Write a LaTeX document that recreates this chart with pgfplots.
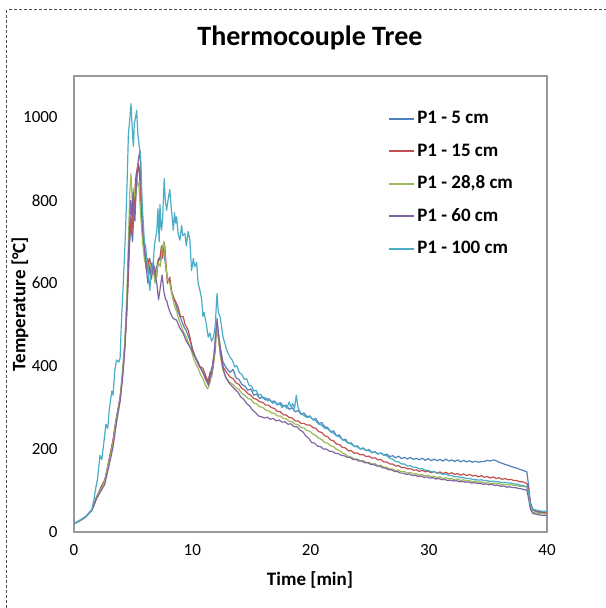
\documentclass[border=0pt]{standalone}
\usepackage{fontspec}
\setmainfont{Carlito}
\usepackage{pgfplots}
\pgfplotsset{compat=1.18}
\definecolor{cBlue}{HTML}{4F81BD}
\definecolor{cRed}{HTML}{C0504D}
\definecolor{cGreen}{HTML}{9BBB59}
\definecolor{cPurple}{HTML}{8064A2}
\definecolor{cCyan}{HTML}{4BACC6}
\begin{document}
\begin{tikzpicture}
\useasboundingbox (-37bp,-38bp) rectangle (266bp,266bp);
\draw[black!70, line width=0.5bp, dash pattern=on 1.5bp off 1bp] (-33.5bp,-38bp) -- (-33.5bp,261bp) -- (266bp,261bp);
\begin{axis}[
  scale only axis, width=236.5bp, height=228bp,
  xmin=0, xmax=40, ymin=0, ymax=1100,
  xtick={0,10,20,30,40}, ytick={0,200,400,600,800,1000},
  major tick length=0pt,
  axis line style={draw=black!40, line width=0.75bp},
  /pgf/number format/assume math mode=true,
  /pgf/number format/1000 sep={},
  ticklabel style={font=\fontsize{8.5bp}{10bp}\selectfont},
  yticklabel style={inner sep=0pt, xshift=-8bp},
  xticklabel style={inner sep=0pt, yshift=-6bp},
  legend cell align=left,
  legend style={at={(0.664,0.931)}, anchor=north west, draw=none, fill=none, inner sep=0pt,
    font=\bfseries\fontsize{9.5bp}{11bp}\selectfont,
    nodes={text height=7bp, text depth=2bp, inner sep=1bp}, row sep=5.25bp},
  legend image code/.code={\draw[#1, line width=0.9bp] (0bp,0bp) -- (12.5bp,0bp);},
  every axis plot/.append style={line width=0.6bp, line join=round},
]
\addplot[cBlue] coordinates {
(0,20)(0.5,28)(1.0,37)(1.5,53)(1.9,84)(2.3,108)(2.6,124)(3.0,178)(3.3,218)(3.6,280)(3.9,322)(4.1,385)(4.3,455)(4.5,560)(4.65,680)(4.8,740)(4.95,700)(5.1,790)(5.25,840)(5.4,870)(5.52,880)(5.65,830)(5.8,740)(5.95,690)(6.1,650)(6.25,630)(6.4,660)(6.55,640)(6.7,635)(6.85,620)(7.0,640)(7.15,660)(7.3,655)(7.45,690)(7.6,680)(7.75,640)(7.9,610)(8.1,605)(8.3,575)(8.5,560)(8.7,540)(8.9,525)(9.1,510)(9.3,495)(9.5,485)(9.7,470)(9.9,455)(10.1,435)(10.3,420)(10.5,410)(10.7,395)(10.9,385)(11.1,375)(11.3,365)(11.5,380)(11.7,400)(11.85,430)(12.0,480)(12.1,500)(12.25,470)(12.4,440)(12.6,410)(12.9,395)
(13.2,385)(13.45,392)(13.7,372)(13.95,368)(14.2,356)(14.45,352)(14.7,342)(14.95,345)(15.2,330)(15.45,333)(15.7,322)(15.95,326)(16.2,318)(16.45,322)(16.7,314)(16.95,316)(17.2,308)(17.45,312)(17.7,303)(17.95,306)(18.2,296)(18.45,300)(18.7,290)(18.95,293)(19.2,284)(19.45,287)(19.7,278)(19.95,280)(20.2,271)(20.45,274)(20.7,262)(20.95,264)(21.2,254)(21.45,252)(21.7,242)(21.95,244)(22.2,232)(22.45,234)(22.7,222)(22.95,224)(23.2,214)(23.45,215)(23.7,206)(23.95,208)(24.2,200)(24.45,203)(24.7,196)(24.95,199)(25.2,191)(25.45,194)(25.7,188)(25.95,191)(26.2,185)(26.45,188)(26.7,182)(26.95,184)(27.2,179)(27.45,183)(27.7,177)(27.95,180)(28.2,176)(28.45,180)(28.7,175)(28.95,178)(29.2,174)(29.45,178)(29.7,173)(29.95,177)(30.2,172)(30.45,176)(30.7,172)(30.95,175)(31.2,171)(31.45,176)(31.7,171)(31.95,174)(32.2,170)(32.45,174)(32.7,169)(32.95,173)(33.2,169)(33.45,172)(33.7,168)(33.95,171)(34.2,168)(34.45,170)(34.7,170)(34.95,173)(35.2,171)(35.45,174)(35.7,172)(35.95,168)(36.2,166)(36.45,163)(36.7,161)(36.95,158)(37.2,156)(37.45,154)(37.7,151)(37.95,149)(38.2,146)(38.3,145)(38.45,110)(38.6,70)(38.8,53)(39.2,48)(39.6,46)(40,45)
};
\addlegendentry{P1 - 5 cm}
\addplot[cRed] coordinates {
(0,20)(0.5,28)(1.0,37)(1.5,53)(1.7,65)(1.92,85)(2.1,95)(2.3,110)(2.6,125)(2.8,150)(3.0,180)(3.3,222)(3.5,260)(3.7,290)(3.9,326)(4.05,360)(4.17,398)(4.3,450)(4.45,519)(4.6,620)(4.7,700)(4.8,760)(4.9,720)(5.0,800)(5.1,770)(5.2,850)(5.3,870)(5.44,888)(5.55,860)(5.65,800)(5.75,740)(5.86,704)(5.95,680)(6.05,650)(6.14,631)(6.25,660)(6.35,640)(6.45,650)(6.56,647)(6.7,620)(6.8,640)(6.99,615)(7.1,650)(7.27,663)(7.4,690)(7.5,660)(7.6,700)(7.69,687)(7.8,640)(7.9,600)(8.1,615)(8.25,580)(8.4,567)(8.6,555)(8.8,543)(9.0,520)(9.24,519)(9.4,500)(9.66,487)(9.8,470)(10.0,440)(10.2,425)(10.37,414)(10.6,400)(10.9,395)(11.1,380)(11.36,360)(11.5,385)(11.63,374)(11.77,398)(11.95,440)(12.06,505)(12.2,470)(12.34,447)(12.5,420)(12.62,398)(12.9,385)
(13.19,374)(13.45,370)(13.7,360)(13.95,356)(14.2,346)(14.45,342)(14.7,334)(14.95,330)(15.2,322)(15.45,320)(15.7,314)(15.95,313)(16.2,306)(16.45,306)(16.7,300)(16.95,298)(17.2,291)(17.45,290)(17.7,283)(17.95,282)(18.2,276)(18.45,275)(18.7,268)(18.95,268)(19.2,262)(19.45,262)(19.7,258)(19.95,258)(20.2,252)(20.45,250)(20.7,242)(20.95,240)(21.2,232)(21.45,230)(21.7,222)(21.95,220)(22.2,212)(22.45,211)(22.7,204)(22.95,203)(23.2,196)(23.45,196)(23.7,190)(23.95,191)(24.2,186)(24.45,187)(24.7,182)(24.95,183)(25.2,178)(25.45,179)(25.7,174)(25.95,175)(26.2,169)(26.45,169)(26.7,164)(26.95,164)(27.2,159)(27.45,160)(27.7,155)(27.95,156)(28.2,152)(28.45,153)(28.7,149)(28.95,150)(29.2,146)(29.45,149)(29.7,145)(29.95,147)(30.2,143)(30.45,146)(30.7,142)(30.95,145)(31.2,141)(31.45,144)(31.7,140)(31.95,143)(32.2,139)(32.45,141)(32.7,137)(32.95,140)(33.2,136)(33.45,139)(33.7,135)(33.95,137)(34.2,133)(34.45,136)(34.7,132)(34.95,134)(35.2,130)(35.45,133)(35.7,129)(35.95,131)(36.2,127)(36.45,129)(36.7,126)(36.95,127)(37.2,124)(37.45,124)(37.7,121)(37.95,121)(38.2,118)(38.3,117)(38.45,100)(38.6,70)(38.8,55)(39.2,50)(39.6,48)(40,47)
};
\addlegendentry{P1 - 15 cm}
\addplot[cGreen] coordinates {
(0,20)(0.5,28)(1.0,38)(1.5,52)(1.9,82)(2.3,105)(2.6,122)(3.0,175)(3.3,215)(3.6,275)(3.9,320)(4.1,380)(4.3,460)(4.45,560)(4.6,700)(4.72,820)(4.82,865)(4.95,780)(5.05,830)(5.2,800)(5.35,850)(5.5,830)(5.65,760)(5.8,700)(5.95,660)(6.1,640)(6.25,625)(6.4,650)(6.55,630)(6.7,640)(6.85,600)(7.0,630)(7.15,650)(7.3,640)(7.45,680)(7.6,700)(7.75,650)(7.9,610)(8.1,600)(8.3,570)(8.5,545)(8.7,530)(8.9,510)(9.1,495)(9.3,480)(9.5,470)(9.7,455)(9.9,440)(10.1,420)(10.3,405)(10.5,395)(10.7,380)(10.9,370)(11.1,355)(11.3,345)(11.5,360)(11.7,390)(11.85,420)(12.0,470)(12.1,495)(12.25,455)(12.4,420)(12.6,390)(12.9,370)
(13.2,360)(13.45,356)(13.7,348)(13.95,344)(14.2,334)(14.45,330)(14.7,322)(14.95,320)(15.2,311)(15.45,309)(15.7,302)(15.95,301)(16.2,294)(16.45,293)(16.7,287)(16.95,286)(17.2,280)(17.45,280)(17.7,274)(17.95,273)(18.2,267)(18.45,266)(18.7,260)(18.95,259)(19.2,252)(19.45,251)(19.7,245)(19.95,243)(20.2,236)(20.45,233)(20.7,226)(20.95,223)(21.2,216)(21.45,214)(21.7,208)(21.95,206)(22.2,199)(22.45,197)(22.7,190)(22.95,188)(23.2,182)(23.45,181)(23.7,176)(23.95,176)(24.2,172)(24.45,172)(24.7,168)(24.95,168)(25.2,164)(25.45,165)(25.7,160)(25.95,161)(26.2,156)(26.45,156)(26.7,152)(26.95,152)(27.2,148)(27.45,149)(27.7,145)(27.95,146)(28.2,142)(28.45,144)(28.7,140)(28.95,141)(29.2,137)(29.45,139)(29.7,135)(29.95,137)(30.2,133)(30.45,135)(30.7,131)(30.95,133)(31.2,129)(31.45,131)(31.7,128)(31.95,129)(32.2,126)(32.45,128)(32.7,124)(32.95,126)(33.2,123)(33.45,124)(33.7,121)(33.95,123)(34.2,120)(34.45,121)(34.7,118)(34.95,120)(35.2,117)(35.45,118)(35.7,116)(35.95,117)(36.2,114)(36.45,115)(36.7,113)(36.95,114)(37.2,112)(37.45,112)(37.7,110)(37.95,110)(38.2,109)(38.3,108)(38.45,90)(38.6,60)(38.8,48)(39.2,45)(39.6,44)(40,43)
};
\addlegendentry{P1 - 28,8 cm}
\addplot[cPurple] coordinates {
(0,20)(0.5,27)(1.0,36)(1.5,52)(1.9,80)(2.3,100)(2.6,115)(3.0,165)(3.3,205)(3.6,265)(3.9,315)(4.1,370)(4.3,440)(4.5,560)(4.65,700)(4.8,800)(4.9,760)(5.0,820)(5.15,750)(5.3,860)(5.45,900)(5.58,920)(5.7,820)(5.8,730)(5.95,690)(6.1,640)(6.25,600)(6.4,640)(6.55,610)(6.7,650)(6.85,625)(7.0,600)(7.15,560)(7.3,590)(7.45,620)(7.6,580)(7.75,560)(7.83,559)(8.0,540)(8.2,525)(8.4,515)(8.68,511)(8.9,495)(9.1,485)(9.24,479)(9.5,460)(9.8,447)(10.1,430)(10.37,414)(10.6,400)(10.9,385)(11.1,370)(11.36,354)(11.5,370)(11.7,395)(11.85,430)(12.0,480)(12.1,515)(12.25,470)(12.4,430)(12.6,395)(12.8,375)
(13.1,360)(13.35,352)(13.6,344)(13.85,338)(14.1,326)(14.35,320)(14.6,310)(14.85,304)(15.1,294)(15.35,288)(15.6,280)(15.85,278)(16.1,275)(16.35,277)(16.6,272)(16.85,274)(17.1,268)(17.35,270)(17.6,265)(17.85,266)(18.1,260)(18.35,261)(18.6,254)(18.85,254)(19.1,246)(19.35,242)(19.6,232)(19.85,226)(20.1,216)(20.35,214)(20.6,207)(20.85,206)(21.1,200)(21.35,200)(21.6,195)(21.85,194)(22.1,190)(22.35,189)(22.6,185)(22.85,184)(23.1,180)(23.35,180)(23.6,175)(23.85,175)(24.1,171)(24.35,171)(24.6,167)(24.85,167)(25.1,163)(25.35,163)(25.6,159)(25.85,159)(26.1,155)(26.35,154)(26.6,150)(26.85,150)(27.1,146)(27.35,146)(27.6,142)(27.85,142)(28.1,139)(28.35,140)(28.6,136)(28.85,137)(29.1,134)(29.35,135)(29.6,132)(29.85,133)(30.1,130)(30.35,131)(30.6,128)(30.85,129)(31.1,126)(31.35,127)(31.6,124)(31.85,125)(32.1,123)(32.35,124)(32.6,121)(32.85,122)(33.1,120)(33.35,121)(33.6,118)(33.85,119)(34.1,117)(34.35,118)(34.6,115)(34.85,116)(35.1,114)(35.35,115)(35.6,112)(35.85,113)(36.1,110)(36.35,111)(36.6,108)(36.85,109)(37.1,107)(37.35,107)(37.6,105)(37.85,104)(38.1,102)(38.3,101)(38.45,80)(38.6,55)(38.8,45)(39.2,42)(39.6,40)(40,40)
};
\addlegendentry{P1 - 60 cm}
\addplot[cCyan] coordinates {
(0,20)(0.5,28)(1.0,37)(1.5,53)(1.7,80)(1.8,100)(2.0,130)(2.2,185)(2.35,175)(2.5,210)(2.7,260)(2.85,250)(3.0,300)(3.2,340)(3.3,330)(3.45,390)(3.6,415)(3.8,410)(3.9,420)(4.0,500)(4.1,560)(4.2,620)(4.35,720)(4.5,850)(4.6,960)(4.7,990)(4.82,1033)(4.95,960)(5.02,930)(5.1,985)(5.2,1000)(5.3,1017)(5.4,960)(5.5,935)(5.65,900)(5.75,800)(5.86,745)(5.95,700)(6.05,690)(6.15,660)(6.25,640)(6.35,600)(6.42,583)(6.5,620)(6.6,640)(6.7,650)(6.8,690)(6.9,710)(7.0,725)(7.1,780)(7.2,700)(7.27,790)(7.35,740)(7.41,728)(7.5,760)(7.63,852)(7.72,800)(7.83,776)(7.95,800)(8.1,826)(8.2,790)(8.3,760)(8.4,728)(8.5,770)(8.6,745)(8.68,760)(8.8,720)(8.96,704)(9.1,740)(9.2,715)(9.38,720)(9.5,690)(9.65,725)(9.8,704)(9.94,631)(10.1,660)(10.2,640)(10.37,650)(10.5,600)(10.65,583)(10.8,560)(10.9,520)(11.0,530)(11.2,500)(11.35,470)(11.5,480)(11.63,460)(11.8,470)(11.95,500)(12.06,560)(12.1,575)(12.2,530)(12.35,520)(12.48,495)(12.6,470)(12.76,455)(12.9,440)(13.05,430)
(13.19,422)(13.4,414)(13.6,398)(13.75,402)(14.0,384)(14.2,380)(14.4,368)(14.6,370)(14.8,354)(15.0,352)(15.2,340)(15.4,342)(15.6,330)(15.8,332)(16.0,322)(16.2,324)(16.4,316)(16.6,318)(16.8,310)(17.0,314)(17.2,306)(17.4,310)(17.6,300)(17.8,306)(18.0,298)(18.2,314)(18.35,302)(18.5,310)(18.65,298)(18.8,330)(18.95,300)(19.1,290)(19.3,284)(19.5,280)(19.7,276)(19.95,278)(20.2,271)(20.45,268)(20.7,260)(20.95,258)(21.2,250)(21.45,249)(21.7,242)(21.95,238)(22.2,232)(22.45,230)(22.7,223)(22.95,220)(23.2,214)(23.45,212)(23.7,207)(23.95,205)(24.2,201)(24.45,201)(24.7,197)(24.95,196)(25.2,192)(25.45,193)(25.7,189)(25.95,190)(26.2,186)(26.45,184)(26.7,178)(26.95,176)(27.2,170)(27.45,169)(27.7,164)(27.95,164)(28.2,159)(28.45,160)(28.7,156)(28.95,156)(29.2,152)(29.45,153)(29.7,149)(29.95,149)(30.2,145)(30.45,146)(30.7,142)(30.95,142)(31.2,139)(31.45,140)(31.7,136)(31.95,136)(32.2,133)(32.45,134)(32.7,131)(32.95,131)(33.2,129)(33.45,129)(33.7,127)(33.95,127)(34.2,125)(34.45,126)(34.7,124)(34.95,124)(35.2,122)(35.45,123)(35.7,121)(35.95,121)(36.2,119)(36.45,120)(36.7,118)(36.95,118)(37.2,116)(37.45,116)(37.7,113)(37.95,112)(38.2,110)(38.3,109)(38.45,95)(38.6,65)(38.8,55)(39.2,52)(39.6,50)(40,50)
};
\addlegendentry{P1 - 100 cm}
\end{axis}
\node[font=\bfseries\fontsize{14bp}{16bp}\selectfont] at (118bp,247bp) {Thermocouple Tree};
\node[font=\bfseries\fontsize{9.5bp}{11bp}\selectfont] at (118bp,-24bp) {Time [min]};
\node[font=\bfseries\fontsize{9.5bp}{11bp}\selectfont, rotate=90] at (-27bp,114bp) {Temperature [°C]};
\end{tikzpicture}
\end{document}
